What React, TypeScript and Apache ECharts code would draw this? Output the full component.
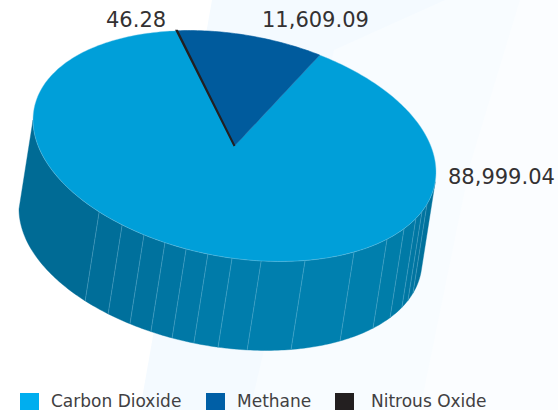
import React, { useEffect, useRef } from "react";
import * as echarts from "echarts";

const gases = ["Carbon Dioxide", "Methane", "Nitrous Oxide"];
const emissions = [88999.04, 11609.09, 46.28];
const topColors = ["#009fd9", "#005b9d", "#231f20"];
const legendColors = ["#00aeef", "#005fa6", "#231f20"];
const sweepOrder = [0, 2, 1];

const wallEdges = [180, 132.2, 123.9, 116.7, 110.2, 103.9, 97.6, 90.7, 82.4, 69.5, 53.6, 40.8, 32.7, 25.8, 21.5, 17.2, 5];
const wallColors = [
  "#006b95", "#006e99", "#00709c", "#00729e", "#0075a2", "#0078a6", "#007ba9", "#007dac",
  "#007fae", "#0080af", "#007fad", "#007da9", "#007aa6", "#0077a3", "#0074a0", "#00719c",
];

const geom = { cx: 234.5, cy: 146, ax: 201.5, ay: 26, by: 112.5, dx: -14, dy: 89, start: -65 };
const labelAnchors = [
  { x: 448, y: 177 },
  { x: 262, y: 20 },
  { x: 106, y: 20 },
];
const legendPos = [
  { left: 20, gap: 7 },
  { left: 206, gap: 7 },
  { left: 335, gap: 12 },
];
const backdrop = [
  { pts: [[212, 0], [558, 0], [558, 410], [140, 410]], fill: "#f4faff" },
  { pts: [[445, 0], [558, 0], [558, 410], [250, 410], [334, 50]], fill: "#f8fcff" },
  { pts: [[520, 0], [558, 0], [558, 410], [420, 410], [470, 165]], fill: "#fbfdff" },
];

const rad = (d: number) => (d * Math.PI) / 180;
const rim = (deg: number, ox = 0, oy = 0) => {
  const t = rad(deg);
  return [
    geom.cx + geom.ax * Math.cos(t) + ox,
    geom.cy + geom.ay * Math.cos(t) + geom.by * Math.sin(t) + oy,
  ];
};
const arc = (a: number, b: number, ox = 0, oy = 0) => {
  const n = Math.max(1, Math.ceil(Math.abs(b - a)));
  const out: number[][] = [];
  for (let i = 0; i <= n; i++) out.push(rim(a + ((b - a) * i) / n, ox, oy));
  return out;
};

const total = emissions.reduce((s, v) => s + v, 0);
const spans: number[][] = [];
{
  let a = geom.start;
  sweepOrder.forEach((idx) => {
    const s = a;
    a += (emissions[idx] / total) * 360;
    spans[idx] = [s, a];
  });
}

const wallSeries = {
  type: "custom",
  name: "wall",
  coordinateSystem: "none",
  silent: true,
  z: 1,
  data: wallColors.map((_, i) => [i]),
  renderItem: (_: any, api: any) => {
    const i = api.value(0);
    const a = wallEdges[i];
    const b = wallEdges[i + 1];
    const children: any[] = [
      {
        type: "polygon",
        shape: { points: [...arc(a, b), ...arc(b, a, geom.dx, geom.dy)] },
        style: { fill: wallColors[i], stroke: wallColors[i], lineWidth: 0.4 },
      },
    ];
    if (i > 0) {
      const p = rim(a);
      const q = rim(a, geom.dx, geom.dy);
      children.push({
        type: "line",
        shape: { x1: p[0], y1: p[1], x2: q[0], y2: q[1] },
        style: { stroke: "rgba(150,210,232,0.38)", lineWidth: 0.8 },
      });
    }
    return { type: "group", children };
  },
};

const sliceSeries = gases.map((name, i) => ({
  type: "custom",
  name,
  coordinateSystem: "none",
  silent: true,
  z: 2 + i,
  itemStyle: { color: legendColors[i] },
  data: [[emissions[i]]],
  renderItem: () => {
    const [a, b] = spans[i];
    const anchor = labelAnchors[i];
    return {
      type: "group",
      children: [
        {
          type: "polygon",
          shape: { points: [[geom.cx, geom.cy], ...arc(a, b)] },
          style: {
            fill: topColors[i],
            stroke: i === 0 ? "#7fcdec" : topColors[i],
            lineWidth: i === 2 ? 2 : i === 1 ? 0.6 : 0.4,
          },
        },
        {
          type: "text",
          x: anchor.x,
          y: anchor.y,
          style: {
            text: emissions[i].toLocaleString("en-US", { minimumFractionDigits: 2, maximumFractionDigits: 2 }),
            font: "400 21px 'DejaVu Sans', sans-serif",
            fill: "#333132",
            textAlign: "left",
            textVerticalAlign: "middle",
          },
        },
      ],
    };
  },
}));

export default function App() {
  const ref = useRef<HTMLDivElement>(null);
  useEffect(() => {
    document.body.style.margin = "0";
    const chart = echarts.init(ref.current!, undefined, { renderer: "svg" });
    chart.setOption({
      animation: false,
      backgroundColor: "#ffffff",
      tooltip: { show: false },
      graphic: backdrop.map((b) => ({
        type: "polygon",
        z: -10,
        silent: true,
        shape: { points: b.pts },
        style: { fill: b.fill },
      })),
      legend: gases.map((name, i) => ({
        show: true,
        left: legendPos[i].left,
        top: 392,
        padding: 0,
        itemWidth: 19,
        itemHeight: 19,
        selectedMode: false,
        formatter: (n: string) => `{a|${n}}`,
        textStyle: {
          rich: {
            a: {
              fontFamily: "'DejaVu Sans', sans-serif",
              fontSize: 17,
              color: "#414042",
              padding: [0, 0, 4, legendPos[i].gap],
            },
          },
        },
        data: [{ name, icon: "rect", itemStyle: { color: legendColors[i] } }],
      })),
      series: [wallSeries, ...sliceSeries],
    });
    return () => chart.dispose();
  }, []);
  return <div ref={ref} style={{ width: 558, height: 410 }} />;
}
